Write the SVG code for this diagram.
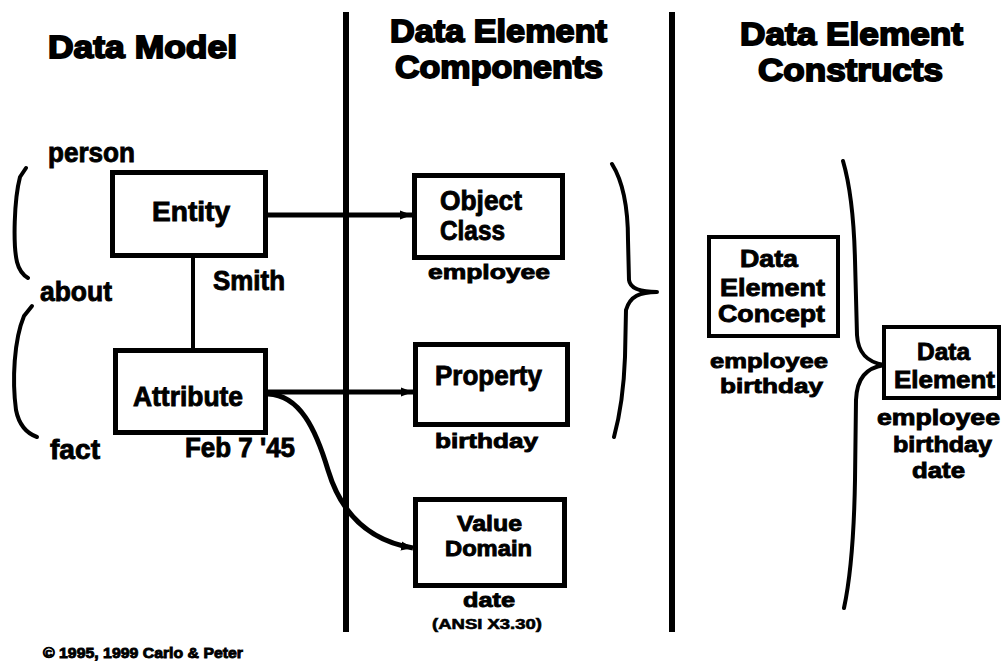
<svg xmlns="http://www.w3.org/2000/svg" width="1003" height="663" viewBox="0 0 1003 663">
<defs>
<style>
.t{font-family:"Liberation Sans",Arial,sans-serif;font-weight:bold;fill:#000;stroke:#000;stroke-width:0.9;}
.h{font-size:32px;stroke-width:1.8;}
.l{font-size:28px;}
.m{font-size:24px;}
.v{font-size:22px;}
.s{font-size:21px;}
.xs{font-size:15px;stroke-width:0.6;}
.box{fill:#fff;stroke:#000;stroke-width:5;}
.box2{fill:#fff;stroke:#000;stroke-width:4;}
.ln{fill:none;stroke:#000;stroke-width:5;}
.br{fill:none;stroke:#000;stroke-width:4;stroke-linecap:round;stroke-linejoin:round;}
</style>
<marker id="ah" markerUnits="userSpaceOnUse" markerWidth="14" markerHeight="12" refX="12" refY="6" orient="auto">
<path d="M0,1.5 L12,6 L0,10.5 z" fill="#000"/>
</marker>
</defs>
<rect width="1003" height="663" fill="#fff"/>

<g id="dividers">
<line x1="346" y1="12" x2="346" y2="632" stroke="#000" stroke-width="6"/>
<line x1="672" y1="12" x2="672" y2="632" stroke="#000" stroke-width="6"/>
</g>

<g id="titles">
<text class="t h" x="48" y="58" font-size="38" textLength="189" lengthAdjust="spacingAndGlyphs">Data Model</text>
<text class="t h" x="390" y="42" textLength="217" lengthAdjust="spacingAndGlyphs">Data Element</text>
<text class="t h" x="395" y="78" textLength="208" lengthAdjust="spacingAndGlyphs">Components</text>
<text class="t h" x="740" y="45" textLength="223" lengthAdjust="spacingAndGlyphs">Data Element</text>
<text class="t h" x="758" y="81" textLength="185" lengthAdjust="spacingAndGlyphs">Constructs</text>
</g>

<g id="connectors">
<line class="ln" x1="266" y1="215" x2="412" y2="215" marker-end="url(#ah)"/>
<line class="ln" x1="266" y1="392" x2="413" y2="392" marker-end="url(#ah)"/>
<line x1="193" y1="258" x2="193" y2="350" stroke="#000" stroke-width="4"/>
<path class="ln" d="M268 394 C300 395 316 430 328 470 C340 510 365 540 413 548" stroke-width="4" marker-end="url(#ah)"/>
</g>

<g id="brackets">
<path class="br" d="M26 168 L20 177 C14 200 13 245 17 262 C19 270 23 275 28 278"/>
<path class="br" d="M32 306 L24 316 C14 340 12 380 16 410 C19 425 26 433 37 437"/>
<path class="br" d="M612 164 C622 180 628 205 628 240 L629 280 C630 288 638 292 657 292 M657 292 C640 292 630 296 626 310 L625 357 C624 385 620 415 614 437"/>
<path class="br" d="M843 161 C850 185 854 220 855 260 L857 335 C858 352 866 362 884 365 M884 365 C866 368 857 378 856 400 L855 480 C854 540 850 580 844 608"/>
</g>

<g id="labels">
<text class="t l" x="48" y="162" textLength="87" lengthAdjust="spacingAndGlyphs">person</text>
<text class="t l" x="40" y="301" textLength="72" lengthAdjust="spacingAndGlyphs">about</text>
<text class="t l" x="50" y="459" textLength="50" lengthAdjust="spacingAndGlyphs">fact</text>
<text class="t l" x="213" y="290" textLength="72" lengthAdjust="spacingAndGlyphs">Smith</text>
<text class="t l" x="185" y="457" textLength="110" lengthAdjust="spacingAndGlyphs">Feb 7 '45</text>
</g>

<g id="entity">
<rect class="box" x="112.5" y="172.5" width="153" height="83"/>
<text class="t l" x="152" y="221" textLength="78" lengthAdjust="spacingAndGlyphs">Entity</text>
</g>

<g id="attribute">
<rect class="box" x="115.5" y="350.5" width="150" height="82"/>
<text class="t l" x="133" y="406" textLength="110" lengthAdjust="spacingAndGlyphs">Attribute</text>
</g>

<g id="object-class">
<rect class="box" x="414.5" y="175.5" width="148" height="82"/>
<text class="t l" x="440" y="210" textLength="82" lengthAdjust="spacingAndGlyphs">Object</text>
<text class="t l" x="440" y="240" textLength="65" lengthAdjust="spacingAndGlyphs">Class</text>
<text class="t s" x="428" y="279" textLength="122" lengthAdjust="spacingAndGlyphs">employee</text>
</g>

<g id="property">
<rect class="box" x="415.5" y="344.5" width="152" height="80"/>
<text class="t l" x="435" y="385" textLength="107" lengthAdjust="spacingAndGlyphs">Property</text>
<text class="t s" x="435" y="448" textLength="103" lengthAdjust="spacingAndGlyphs">birthday</text>
</g>

<g id="value-domain">
<rect class="box" x="415.5" y="499.5" width="149" height="86"/>
<text class="t v" x="457" y="531" textLength="65" lengthAdjust="spacingAndGlyphs">Value</text>
<text class="t v" x="445" y="556" textLength="87" lengthAdjust="spacingAndGlyphs">Domain</text>
<text class="t s" x="463" y="607" textLength="52" lengthAdjust="spacingAndGlyphs">date</text>
<text class="t xs" x="432" y="629" textLength="110" lengthAdjust="spacingAndGlyphs">(ANSI X3.30)</text>
</g>

<g id="data-element-concept">
<rect class="box2" x="709" y="237" width="129" height="99"/>
<text class="t m" x="740" y="267" textLength="58" lengthAdjust="spacingAndGlyphs">Data</text>
<text class="t m" x="720" y="296" textLength="105" lengthAdjust="spacingAndGlyphs">Element</text>
<text class="t m" x="718" y="322" textLength="107" lengthAdjust="spacingAndGlyphs">Concept</text>
<text class="t s" x="710" y="368" textLength="118" lengthAdjust="spacingAndGlyphs">employee</text>
<text class="t s" x="720" y="393" textLength="103" lengthAdjust="spacingAndGlyphs">birthday</text>
</g>

<g id="data-element">
<rect class="box2" x="884" y="327" width="115" height="71"/>
<text class="t m" x="917" y="360" textLength="53" lengthAdjust="spacingAndGlyphs">Data</text>
<text class="t m" x="894" y="388" textLength="101" lengthAdjust="spacingAndGlyphs">Element</text>
<text class="t v" x="877" y="425" textLength="123" lengthAdjust="spacingAndGlyphs">employee</text>
<text class="t v" x="893" y="452" textLength="99" lengthAdjust="spacingAndGlyphs">birthday</text>
<text class="t v" x="912" y="478" textLength="53" lengthAdjust="spacingAndGlyphs">date</text>
</g>

<g id="footer">
<text class="t" x="43" y="658" font-size="15" stroke-width="0.6" textLength="200" lengthAdjust="spacingAndGlyphs">© 1995, 1999 Carlo &amp; Peter</text>
</g>
</svg>
